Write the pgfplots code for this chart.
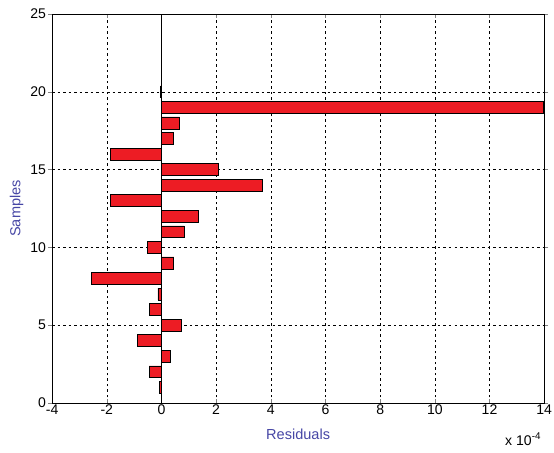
\documentclass[border=0pt]{standalone}
\usepackage{fontspec}
\setmainfont{Liberation Sans}
\usepackage{pgfplots}
\pgfplotsset{compat=1.18}
\definecolor{barred}{RGB}{237,28,36}
\definecolor{lblue}{RGB}{70,70,165}
\begin{document}
\fontsize{14pt}{16pt}\selectfont
\begin{tikzpicture}
\begin{axis}[
  name=main,
  scale only axis,
  width=491pt, height=388pt,
  xmin=-4, xmax=14, ymin=0, ymax=25,
  xtick={-4,-2,...,14}, ytick={0,5,...,25},
  tick align=inside,
  major tick length=4pt,
  grid=major,
  major grid style={black, dash pattern=on 2.5pt off 3pt, line width=0.5pt},
  axis line style={black, line width=0.6pt},
  /pgf/number format/assume math mode=true,
  ticklabel style={font=\fontsize{14pt}{16pt}\selectfont, inner sep=2pt},
  xlabel={Residuals}, ylabel={Samples},
  label style={font=\fontsize{14.5pt}{16pt}\selectfont},
  xlabel style={text=lblue, yshift=-7pt},
  ylabel style={text=lblue, yshift=0pt},
  xbar, bar width=0.76,
  clip=false,
]
\addplot[fill=barred, draw=black, line width=0.6pt] coordinates {
(-0.09,1) (-0.45,2) (0.33,3) (-0.88,4) (0.71,5)
(-0.45,6) (-0.13,7) (-2.55,8) (0.45,9) (-0.50,10)
(0.83,11) (1.33,12) (-1.88,13) (3.70,14) (2.08,15)
(-1.88,16) (0.45,17) (0.66,18) (13.95,19) (-0.05,20)
};
\draw[black, line width=0.6pt] (axis cs:0,0) -- (axis cs:0,25);
\end{axis}
\node[anchor=north east, inner sep=0pt] at ([yshift=-30pt, xshift=-3pt]main.south east) {x 10\textsuperscript{-4}};
\path ([yshift=14pt, xshift=-52pt]main.north west) -- ([yshift=-50pt]main.south east);
\end{tikzpicture}
\end{document}
